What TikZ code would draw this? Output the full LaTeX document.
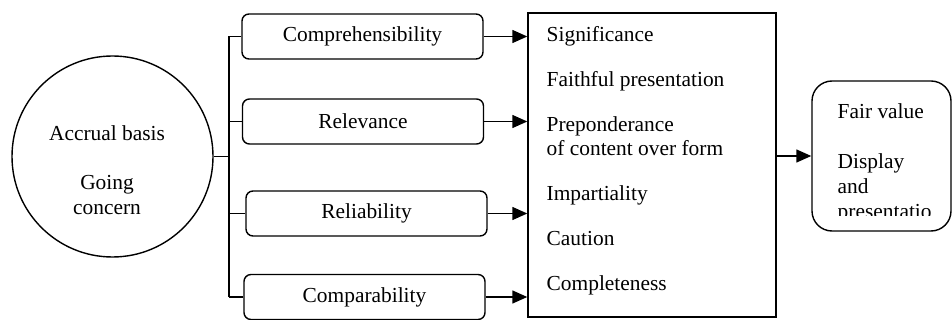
\documentclass[tikz,border=0pt]{standalone}
\usepackage{fontspec}
\setmainfont{Liberation Serif}
\usetikzlibrary{arrows.meta}
\newlength{\du}
\setlength{\du}{0.5pt}
\tikzset{
  qualbox/.style={draw, rounded corners=7\du, minimum width=241\du, minimum height=45\du, inner sep=0pt},
  link/.style={-{Triangle[length=7.5pt,width=6.5pt]}},
}

\begin{document}
\begin{tikzpicture}[line width=0.7pt, font=\fontsize{10.7}{12}\selectfont]
\pgftransformxscale{1.000000}
\pgftransformyscale{-1.000000}
\useasboundingbox (0\du,0\du) rectangle (952\du,320\du);

\node[draw, circle, minimum size=201\du, inner sep=0pt] (acc) at (112.5\du,156.5\du) {};
\node[anchor=north, align=center, inner sep=0pt, font=\fontsize{10.7}{12.5}\selectfont] (acctext) at (107\du,125\du) {Accrual basis\\[12pt]Going\\concern};
\coordinate (spine) at (229\du,156\du);

\node[qualbox] (compr) at (362.5\du,36.5\du) {Comprehensibility};
\node[qualbox] (relev) at (363\du,121.5\du) {Relevance};
\node[qualbox] (relia) at (366.5\du,213.5\du) {Reliability};
\node[qualbox] (compa) at (364.5\du,297\du) {Comparability};

\node[draw, minimum width=248\du, minimum height=304\du, inner sep=0pt] (attr) at (652\du,165\du) {};
\node[anchor=north west, align=left, inner sep=0pt] (attrtext) at (546\du,26\du) {Significance\\[10.5pt]Faithful presentation\\[10.5pt]Preponderance\\of content over form\\[10.5pt]Impartiality\\[10.5pt]Caution\\[10.5pt]Completeness};

\node[draw, rounded corners=20\du, minimum width=139\du, minimum height=150\du, inner sep=0pt] (fair) at (881.5\du,156\du) {};
\begin{scope}
\clip (812\du,81\du) rectangle (951\du,215.5\du);
\node[anchor=north west, align=left, inner sep=0pt, font=\fontsize{10.7}{12.5}\selectfont] (fairtext) at (837\du,103\du) {Fair value\\[12.5pt]Display\\and\\presentatio};
\end{scope}

\draw (acc.east) -- (acc.east -| spine);
\draw (compr.west -| spine) -- (compa.west -| spine);
\foreach \q in {compr,relev,relia,compa} {
  \draw (\q.west) -- (\q.west -| spine);
  \draw[link] (\q.east) -- (\q.east -| attr.west);
}
\draw[link] (attr.east |- fair.west) -- (fair.west);
\end{tikzpicture}
\end{document}
